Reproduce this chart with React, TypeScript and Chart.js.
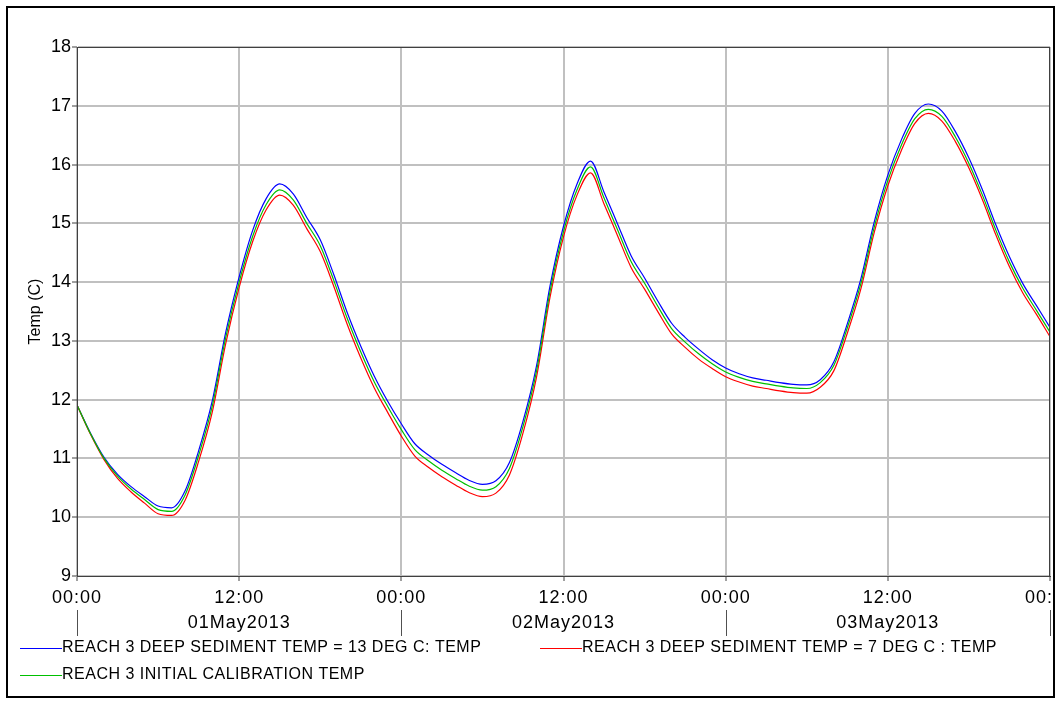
import React, { useEffect, useRef } from "react";
import { Chart, registerables } from "chart.js";

Chart.register(...registerables);

const hours: number[] = Array.from({ length: 73 }, (_, i) => i);

const deep13Temp: number[] = [
  11.91, 11.43, 11.02, 10.73, 10.52, 10.35, 10.19, 10.16, 10.45, 11.13, 11.97, 13.14, 14.09, 14.88, 15.42, 15.67, 15.50, 15.10, 14.72, 14.13, 13.48, 12.91, 12.40, 11.97, 11.59,
  11.25, 11.06, 10.90, 10.76, 10.63, 10.56, 10.62, 10.93, 11.63, 12.57, 13.93, 14.95, 15.67, 16.06, 15.53, 14.99, 14.45, 14.07, 13.67, 13.30, 13.06, 12.86, 12.68, 12.54,
  12.44, 12.37, 12.33, 12.29, 12.26, 12.25, 12.34, 12.64, 13.29, 14.05, 15.03, 15.82, 16.42, 16.87, 17.03, 16.91, 16.56, 16.11, 15.57, 14.97, 14.43, 13.97, 13.60, 13.23,
];

const deep7Temp: number[] = [
  11.91, 11.41, 10.98, 10.66, 10.43, 10.24, 10.06, 10.03, 10.29, 10.95, 11.78, 12.95, 13.91, 14.69, 15.23, 15.48, 15.31, 14.91, 14.52, 13.93, 13.28, 12.71, 12.20, 11.78, 11.38,
  11.04, 10.85, 10.69, 10.55, 10.42, 10.35, 10.41, 10.72, 11.43, 12.38, 13.74, 14.77, 15.48, 15.86, 15.33, 14.79, 14.25, 13.88, 13.49, 13.12, 12.89, 12.69, 12.53, 12.39,
  12.30, 12.23, 12.19, 12.15, 12.12, 12.11, 12.21, 12.49, 13.13, 13.88, 14.85, 15.64, 16.24, 16.70, 16.87, 16.74, 16.39, 15.94, 15.40, 14.80, 14.26, 13.81, 13.45, 13.07,
];

const calibrationTemp: number[] = [
  11.91, 11.42, 11.00, 10.70, 10.48, 10.30, 10.13, 10.10, 10.38, 11.05, 11.88, 13.05, 14.00, 14.78, 15.32, 15.57, 15.40, 15.00, 14.62, 14.03, 13.38, 12.81, 12.30, 11.88, 11.49,
  11.15, 10.96, 10.80, 10.66, 10.53, 10.46, 10.52, 10.83, 11.54, 12.48, 13.84, 14.86, 15.57, 15.96, 15.43, 14.89, 14.35, 13.98, 13.58, 13.21, 12.98, 12.78, 12.61, 12.47,
  12.38, 12.31, 12.27, 12.23, 12.20, 12.19, 12.29, 12.58, 13.22, 13.97, 14.94, 15.73, 16.33, 16.78, 16.94, 16.82, 16.47, 16.02, 15.48, 14.88, 14.34, 13.89, 13.52, 13.15,
];

const seriesLabels: string[] = [
  "REACH 3 DEEP SEDIMENT TEMP = 13 DEG C: TEMP",
  "REACH 3 DEEP SEDIMENT TEMP = 7 DEG C : TEMP",
  "REACH 3 INITIAL CALIBRATION TEMP",
];
const seriesColors: string[] = ["#0000ff", "#ff0000", "#00c000"];
const timeLabels: string[] = ["00:00", "12:00"];
const dateLabels: string[] = ["01May2013", "02May2013", "03May2013"];
const yTitle = "Temp (C)";

const FONT = "'Liberation Sans', Arial, sans-serif";

const decorPlugin = {
  id: "decor",
  afterDatasetsDraw(chart: any) {
    // x tick labels (z=1) are drawn after this hook
    chart.ctx.letterSpacing = "1px";
  },
  afterDraw(chart: any) {
    const ctx = chart.ctx;
    const area = chart.chartArea;
    const xs = chart.scales.x;
    ctx.save();
    ctx.letterSpacing = "0px";
    // plot frame
    ctx.strokeStyle = "#404040";
    ctx.lineWidth = 1;
    ctx.strokeRect(area.left + 0.5, area.top + 0.5, area.right - area.left - 1, area.bottom - area.top);
    // day separators
    ctx.strokeStyle = "#505050";
    for (let h = 0; h <= 72; h += 24) {
      const px = Math.round(xs.getPixelForValue(h)) + 0.5;
      ctx.beginPath();
      ctx.moveTo(px, 610);
      ctx.lineTo(px, 636);
      ctx.stroke();
    }
    // clip right overflow
    ctx.fillStyle = "#ffffff";
    ctx.fillRect(1052, 578, 10, 40);
    // legend
    const pos = [
      [20, 648],
      [540, 648],
      [20, 675],
    ];
    ctx.font = "16px " + FONT;
    ctx.textBaseline = "middle";
    ctx.textAlign = "left";
    chart.data.datasets.forEach((ds: any, i: number) => {
      const [lx, ly] = pos[i];
      ctx.strokeStyle = ds.borderColor;
      ctx.lineWidth = 1;
      ctx.beginPath();
      ctx.moveTo(lx, ly + 0.5);
      ctx.lineTo(lx + 42, ly + 0.5);
      ctx.stroke();
      ctx.fillStyle = "#000";
      ctx.letterSpacing = "0.5px";
      ctx.fillText(ds.label, lx + 42, ly);
      ctx.letterSpacing = "0px";
    });
    // outer border
    ctx.strokeStyle = "#000";
    ctx.lineWidth = 2;
    ctx.strokeRect(7, 7, 1047, 690);
    ctx.restore();
    ctx.letterSpacing = "0px";
  },
};

export default function App() {
  const ref = useRef<HTMLCanvasElement | null>(null);
  useEffect(() => {
    if (!ref.current) return;
    const mk = (vals: number[]) => hours.map((h, i) => ({ x: h, y: vals[i] }));
    const chart = new Chart(ref.current, {
      type: "line",
      data: {
        datasets: [
          { label: seriesLabels[0], data: mk(deep13Temp), borderColor: seriesColors[0], order: 2 },
          { label: seriesLabels[1], data: mk(deep7Temp), borderColor: seriesColors[1], order: 1 },
          { label: seriesLabels[2], data: mk(calibrationTemp), borderColor: seriesColors[2], order: 0 },
        ].map((d) => ({
          ...d,
          borderWidth: 1.2,
          pointRadius: 0,
          cubicInterpolationMode: "monotone",
          fill: false,
        })),
      },
      options: {
        animation: false,
        responsive: false,
        devicePixelRatio: 1,
        layout: { padding: { left: 0, right: 7, top: 47, bottom: 68 } },
        plugins: { legend: { display: false }, tooltip: { enabled: false } },
        scales: {
          x: {
            type: "linear",
            min: 0,
            max: 72,
            afterFit: (s: any) => {
              s.height = 60;
              s.paddingLeft = 0;
              s.paddingRight = 0;
            },
            ticks: {
              stepSize: 12,
              autoSkip: false,
              maxRotation: 0,
              minRotation: 0,
              padding: 5,
              z: 1,
              color: "#000",
              font: { family: FONT, size: 18, lineHeight: "25px" },
              callback: (v: any) => {
                const h = Number(v);
                if (h % 24 === 0) return [timeLabels[0], ""];
                return [timeLabels[1], dateLabels[Math.floor(h / 24)]];
              },
            },
            grid: {
              color: "#c0c0c0",
              lineWidth: 2,
              tickColor: "#404040",
              tickWidth: 1,
              tickLength: 5,
            },
            border: { display: true, color: "#404040", width: 1 },
          },
          y: {
            type: "linear",
            min: 9,
            max: 18,
            afterFit: (s: any) => {
              s.width = 77;
              s.paddingTop = 0;
              s.paddingBottom = 0;
            },
            ticks: {
              stepSize: 1,
              padding: 1,
              color: "#000",
              font: { family: FONT, size: 18 },
            },
            title: {
              display: true,
              text: yTitle,
              color: "#000",
              font: { family: FONT, size: 16, lineHeight: 1.2 },
              padding: { top: 26, bottom: 0 },
            },
            grid: {
              color: "#c0c0c0",
              lineWidth: 2,
              tickColor: "#404040",
              tickWidth: 1,
              tickLength: 5,
            },
            border: { display: true, color: "#404040", width: 1 },
          },
        },
      },
      plugins: [decorPlugin],
    } as any);
    return () => chart.destroy();
  }, []);
  return (
    <div style={{ position: "fixed", left: 0, top: 0, width: 1057, height: 704, background: "#fff" }}>
      <canvas ref={ref} width={1057} height={704} style={{ display: "block", width: 1057, height: 704 }} />
    </div>
  );
}
